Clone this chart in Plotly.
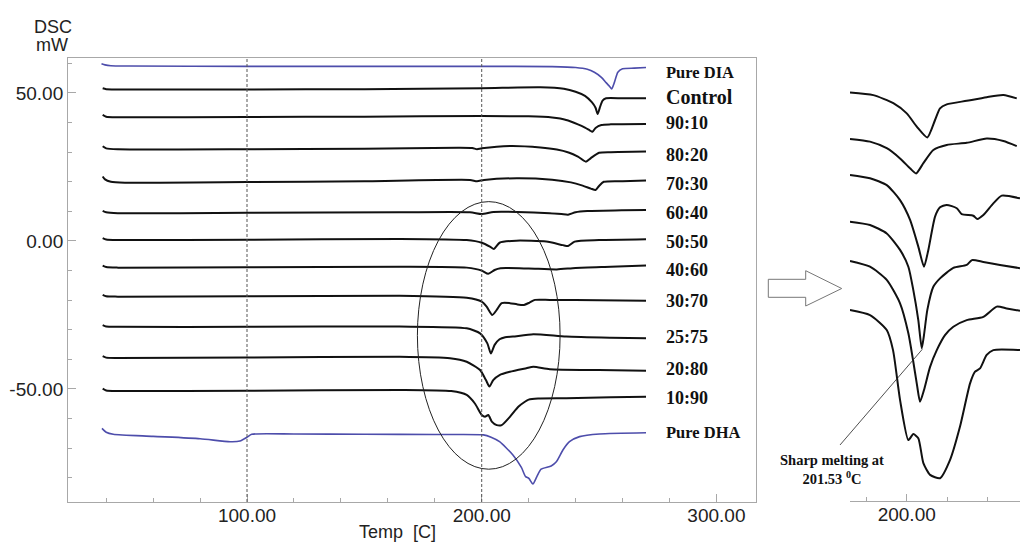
import plotly.graph_objects as go

# ---------------- main panel data (Temp [C], DSC mW) ----------------
t_pure_dia = [38, 39.5, 42, 50, 100, 150, 200, 230, 240, 245, 248, 251, 253, 254.5, 255.4, 256.5, 258, 260, 265, 270]
v_pure_dia = [59.9, 59.5, 59.2, 59.1, 59.0, 59.0, 59.0, 58.9, 58.6, 58.0, 57.0, 55.3, 53.5, 52.2, 51.4, 53.5, 57.0, 58.2, 58.4, 58.6]

t_control = [38.5, 40, 50, 100, 150, 200, 225, 235, 240, 244, 247, 248.5, 249.4, 250.3, 251.5, 253, 260, 270]
v_control = [51.6, 51.3, 51.2, 51.2, 51.3, 51.6, 51.9, 51.4, 50.4, 49.0, 46.8, 45.0, 42.9, 45.0, 47.4, 48.2, 48.2, 48.2]

t_90_10 = [38.5, 40, 45, 100, 150, 200, 220, 230, 236, 241, 244, 246, 247.2, 248.5, 251, 255, 270]
v_90_10 = [42.6, 42.0, 41.8, 41.9, 42.0, 42.2, 42.1, 41.7, 40.9, 39.4, 38.3, 37.4, 36.9, 38.2, 39.2, 39.4, 39.5]

t_80_20 = [38.5, 40, 45, 100, 150, 190, 196, 198, 200, 212, 225, 232, 237, 241, 244.4, 246.5, 250, 255, 270]
v_80_20 = [32.0, 31.3, 31.0, 31.0, 31.2, 31.5, 31.4, 31.0, 31.3, 32.1, 31.6, 30.9, 29.9, 28.5, 26.8, 28.0, 29.8, 30.0, 30.2]

t_70_30 = [38.5, 39.5, 42, 48, 100, 150, 195, 198, 201, 215, 230, 238, 243, 246.5, 248.5, 250, 252, 260, 270]
v_70_30 = [21.8, 20.8, 20.0, 19.7, 19.9, 20.2, 20.6, 20.2, 20.6, 21.2, 20.7, 19.8, 18.7, 17.7, 17.2, 18.6, 20.0, 20.2, 20.4]

t_60_40 = [38.5, 40, 45, 100, 165, 195, 200, 205, 215, 229, 234, 236.8, 240, 245, 260, 270]
v_60_40 = [10.2, 9.7, 9.4, 9.5, 9.7, 9.7, 9.1, 9.8, 9.8, 9.4, 9.1, 8.9, 9.7, 10.1, 10.4, 10.5]

t_50_50 = [38.5, 40, 45, 100, 165, 193.6, 200, 203.5, 205.2, 207.6, 214.7, 227.5, 234.6, 236.8, 239.6, 250, 270]
v_50_50 = [1.0, 0.5, 0.3, 0.4, 0.7, 0.3, -0.6, -1.9, -2.7, -0.6, 0.1, -0.2, -1.4, -1.7, -0.2, 0.3, 0.6]

t_40_60 = [38.5, 40, 45, 100, 165, 193.6, 200, 202.8, 205.5, 208, 220, 232, 240, 255, 270]
v_40_60 = [-8.3, -8.8, -9.0, -8.9, -8.7, -9.0, -10.0, -11.1, -9.8, -9.2, -9.3, -9.6, -9.1, -8.7, -8.3]

t_30_70 = [38.5, 40, 45, 100, 165, 193.6, 200, 202.1, 204.5, 206.4, 208.5, 212, 215, 218, 220.4, 222.7, 229, 250, 270]
v_30_70 = [-18.2, -18.7, -18.8, -18.7, -18.5, -19.2, -20.5, -22.2, -25.0, -23.3, -21.0, -21.0, -21.4, -21.6, -20.8, -19.9, -19.9, -20.0, -20.2]

t_25_75 = [38.5, 40, 45, 100, 165, 193.6, 199.3, 202.4, 203.9, 205.5, 207.6, 210, 213.3, 222, 236, 255, 270]
v_25_75 = [-28.4, -28.9, -29.0, -29.0, -28.9, -29.5, -31.2, -34.6, -38.0, -35.1, -33.2, -32.5, -32.3, -31.5, -32.3, -32.7, -32.9]

t_20_80 = [38.5, 40, 45, 100, 165, 186.5, 193.6, 199.3, 201.8, 203.3, 204.9, 207.6, 212, 219, 222, 229, 250, 270]
v_20_80 = [-38.9, -39.4, -39.5, -39.4, -39.1, -39.6, -40.8, -43.6, -47.0, -49.2, -47.0, -45.3, -44.2, -43.0, -42.5, -43.3, -43.6, -43.8]

t_10_90 = [38.5, 40, 45, 100, 165, 187, 193.6, 197.1, 200, 201.4, 202.8, 204.3, 206.4, 208.5, 212, 215.6, 218.4, 220, 224, 236, 255, 270]
v_10_90 = [-49.9, -50.5, -50.7, -50.6, -50.3, -50.7, -52.0, -54.9, -58.8, -59.4, -58.8, -61.0, -62.2, -62.2, -59.4, -56.0, -54.3, -53.6, -53.2, -53.1, -52.8, -52.6]

t_pure_dha = [38.2, 40, 43, 60, 80, 92.8, 97, 100, 102, 120, 150, 180, 200.7, 204, 207.6, 213.3, 216.9, 218.7, 220.1, 221.8, 223.5, 225.3, 229.6, 231.8, 234.6, 237.4, 241.7, 250.2, 270]
v_pure_dha = [-63.3, -64.6, -65.3, -66.0, -66.8, -67.8, -67.6, -66.3, -65.3, -65.2, -65.3, -65.4, -65.5, -66.3, -67.8, -72.3, -76.5, -79.6, -80.2, -82.1, -79.6, -77.1, -76.0, -74.6, -70.6, -67.8, -66.1, -65.2, -64.8]

series_names = ["Pure DIA", "Control", "90:10", "80:20", "70:30", "60:40", "50:50",
                "40:60", "30:70", "25:75", "20:80", "10:90", "Pure DHA"]
label_y = [56.8, 48.8, 39.7, 29.2, 19.3, 9.6, -0.2, -9.8, -20.4, -32.3, -43.4, -53.2, -64.8]

# axis tick labels (as printed, with a plain hyphen)
y_tick_vals = [-50, 0, 50]
y_tick_text = ["-50.00", "0.00", "50.00"]
x_tick_vals = [100, 200, 300]
x_tick_text = ["100.00", "200.00", "300.00"]
inset_tick_vals = [200]
inset_tick_text = ["200.00"]

# ---------------- zoomed inset data (Temp [C], relative DSC) ----------------
inset_t_50_50 = [194.41, 196.71, 198.68, 200.0, 200.99, 202.03, 202.79, 203.28, 203.94, 205.91, 207.88, 209.52, 210.84]
inset_v_50_50 = [136.1, 135.2, 132.5, 129.1, 124.7, 121.1, 126.9, 130.8, 132.1, 133.3, 134.5, 135.2, 134.1]

inset_t_40_60 = [194.41, 196.38, 198.03, 199.34, 200.33, 200.92, 201.64, 202.62, 203.94, 205.91, 207.88, 209.52, 210.84]
inset_v_40_60 = [120.6, 119.7, 117.5, 114.1, 110.8, 109.1, 112.5, 116.9, 118.6, 119.3, 120.7, 119.9, 118.2]

inset_t_30_70 = [194.41, 196.38, 198.03, 199.34, 200.33, 201.14, 201.70, 202.13, 202.79, 203.28, 203.94, 204.93, 205.42, 206.56, 206.96, 207.55, 208.53, 209.36, 211.16]
inset_v_30_70 = [108.6, 107.5, 105.2, 100.2, 93.6, 84.7, 78.0, 83.6, 94.7, 97.8, 98.6, 97.5, 95.5, 95.0, 93.9, 95.2, 99.1, 101.7, 100.8]

inset_t_25_75 = [194.41, 196.38, 198.03, 199.34, 200.16, 200.65, 201.14, 201.48, 201.70, 202.03, 202.62, 203.28, 204.59, 205.91, 206.43, 207.55, 209.19, 211.16]
inset_v_25_75 = [93.0, 91.9, 89.1, 83.6, 78.0, 70.2, 60.2, 50.8, 55.2, 63.6, 71.3, 74.1, 77.6, 78.6, 80.2, 79.6, 78.6, 77.5]

inset_t_20_80 = [194.41, 196.38, 198.03, 199.34, 200.16, 200.62, 201.01, 201.31, 201.70, 202.30, 202.96, 203.77, 204.59, 205.91, 207.55, 208.87, 209.85, 211.16]
inset_v_20_80 = [79.9, 78.0, 73.6, 65.8, 55.8, 46.9, 38.6, 33.0, 36.9, 44.6, 50.2, 55.2, 58.0, 60.2, 61.3, 64.7, 64.1, 63.3]

inset_t_10_90 = [194.41, 196.38, 198.03, 198.65, 199.34, 200.16, 200.65, 201.14, 201.64, 202.30, 203.28, 204.27, 205.25, 206.24, 206.73, 207.22, 207.88, 208.53, 211.16]
inset_v_10_90 = [63.6, 61.9, 56.9, 50.2, 33.6, 20.2, 22.2, 20.8, 12.5, 8.6, 7.5, 13.6, 24.7, 39.1, 43.0, 44.1, 48.6, 50.2, 50.2]

main_t = [t_pure_dia, t_control, t_90_10, t_80_20, t_70_30, t_60_40, t_50_50,
          t_40_60, t_30_70, t_25_75, t_20_80, t_10_90, t_pure_dha]
main_v = [v_pure_dia, v_control, v_90_10, v_80_20, v_70_30, v_60_40, v_50_50,
          v_40_60, v_30_70, v_25_75, v_20_80, v_10_90, v_pure_dha]
inset_t = [inset_t_50_50, inset_t_40_60, inset_t_30_70, inset_t_25_75, inset_t_20_80, inset_t_10_90]
inset_v = [inset_v_50_50, inset_v_40_60, inset_v_30_70, inset_v_25_75, inset_v_20_80, inset_v_10_90]

BLUE = "#4d4dab"
BLACK = "#111111"
AXIS = "#a8a8a8"
SANS = "Liberation Sans, Arial, sans-serif"
SERIF = "Liberation Serif, Times New Roman, serif"

fig = go.Figure()
for name, t, v in zip(series_names, main_t, main_v):
    blue = name.startswith("Pure")
    fig.add_trace(go.Scatter(
        x=t, y=v, mode="lines", name=name,
        line=dict(color=BLUE if blue else BLACK, width=1.6 if blue else 2,
                  shape="spline", smoothing=0.6),
        xaxis="x", yaxis="y", hoverinfo="skip"))

for t, v in zip(inset_t, inset_v):
    fig.add_trace(go.Scatter(
        x=t, y=v, mode="lines",
        line=dict(color=BLACK, width=2, shape="spline", smoothing=0.6),
        xaxis="x2", yaxis="y2", hoverinfo="skip"))

# series labels
for name, y in zip(series_names, label_y):
    size = 20 if name == "Control" else (16.5 if name.startswith("Pure") else 18)
    fig.add_annotation(x=277.5, y=y, xref="x", yref="y", text="<b>%s</b>" % name,
                       showarrow=False, xanchor="left", yanchor="middle",
                       font=dict(family=SERIF, size=size, color="#111"))

shapes = [
    dict(type="line", xref="x", yref="y domain", x0=100, x1=100, y0=0, y1=1,
         line=dict(color="#555", width=1, dash="3px,2px")),
    dict(type="line", xref="x", yref="y domain", x0=200, x1=200, y0=0, y1=1,
         line=dict(color="#555", width=1, dash="3px,2px")),
    dict(type="circle", xref="x", yref="y", x0=172.6, x1=233.4, y0=-77.1, y1=13.3,
         line=dict(color="#222", width=1)),
    # open block arrow between panels
    dict(type="path", xref="paper", yref="paper",
         path="M 0.75324 0.48564 L 0.78990 0.48564 L 0.78990 0.50147 L 0.82520 0.46869 "
              "L 0.78990 0.43646 L 0.78990 0.45249 L 0.75324 0.45249 Z",
         line=dict(color="#777", width=1), fillcolor="white"),
    # pointer line for the sharp melting note
    dict(type="line", xref="paper", yref="paper", x0=0.90422, y0=0.35672, x1=0.82353, y1=0.18048,
         line=dict(color="#222", width=0.8)),
]

fig.add_annotation(x=0.8154, y=0.13573, xref="paper", yref="paper",
                   text="<b>Sharp melting at<br>201.53 <sup>0</sup>C</b>", showarrow=False,
                   xanchor="center", yanchor="middle", align="center",
                   font=dict(family=SERIF, size=14.5, color="#111"))
fig.add_annotation(x=0.0515, y=0.95028, xref="paper", yref="paper", text="DSC",
                   showarrow=False, xanchor="center", yanchor="middle",
                   font=dict(family=SANS, size=18, color="#222"))
fig.add_annotation(x=0.0507, y=0.91713, xref="paper", yref="paper", text="mW",
                   showarrow=False, xanchor="center", yanchor="middle",
                   font=dict(family=SANS, size=18, color="#222"))
fig.add_annotation(x=397.5 / 1020, y=0.02026, xref="paper", yref="paper",
                   text="Temp\u00a0\u00a0[C]", showarrow=False, xanchor="center", yanchor="middle",
                   font=dict(family=SANS, size=18, color="#222"))

tickfont = dict(family=SANS, size=19, color="#222")
fig.update_layout(
    width=1020, height=543,
    margin=dict(l=0, r=0, t=0, b=0, pad=0),
    paper_bgcolor="white", plot_bgcolor="white",
    showlegend=False,
    shapes=shapes,
    xaxis=dict(domain=[0.06667, 0.74118], range=[23.73, 316.87], anchor="y",
               showline=True, linecolor=AXIS, linewidth=1, mirror=True,
               ticks="inside", ticklen=8, tickcolor=AXIS, tickwidth=1,
               tickmode="array", tickvals=x_tick_vals, ticktext=x_tick_text, tickfont=tickfont,
               ticklabelstandoff=-4,
               minor=dict(dtick=20, tick0=0, ticks="inside", ticklen=4, tickcolor=AXIS),
               showgrid=False, zeroline=False),
    yaxis=dict(domain=[0.07551, 0.89319], range=[-88.18, 61.82], anchor="x",
               showline=True, linecolor=AXIS, linewidth=1, mirror=True,
               ticks="inside", ticklen=8, tickcolor=AXIS, tickwidth=1,
               tickmode="array", tickvals=y_tick_vals, ticktext=y_tick_text, tickfont=tickfont,
               minor=dict(dtick=10, tick0=0, ticks="inside", ticklen=4, tickcolor=AXIS),
               showgrid=False, zeroline=False),
    xaxis2=dict(domain=[0.83333, 1.0], range=[194.41, 211.16], anchor="y2",
                showline=True, linecolor=AXIS, linewidth=1, mirror=False,
                ticks="inside", ticklen=7, tickcolor=AXIS, tickwidth=1,
                tickmode="array", tickvals=inset_tick_vals, ticktext=inset_tick_text, tickfont=tickfont,
                ticklabelstandoff=-4,
                minor=dict(dtick=4, tick0=200, ticks="inside", ticklen=4, tickcolor=AXIS),
                showgrid=False, zeroline=False),
    yaxis2=dict(domain=[0.0779, 0.89319], range=[0, 147.57], anchor="x2",
                visible=False, showgrid=False, zeroline=False),
)

fig.write_html("out.html")
